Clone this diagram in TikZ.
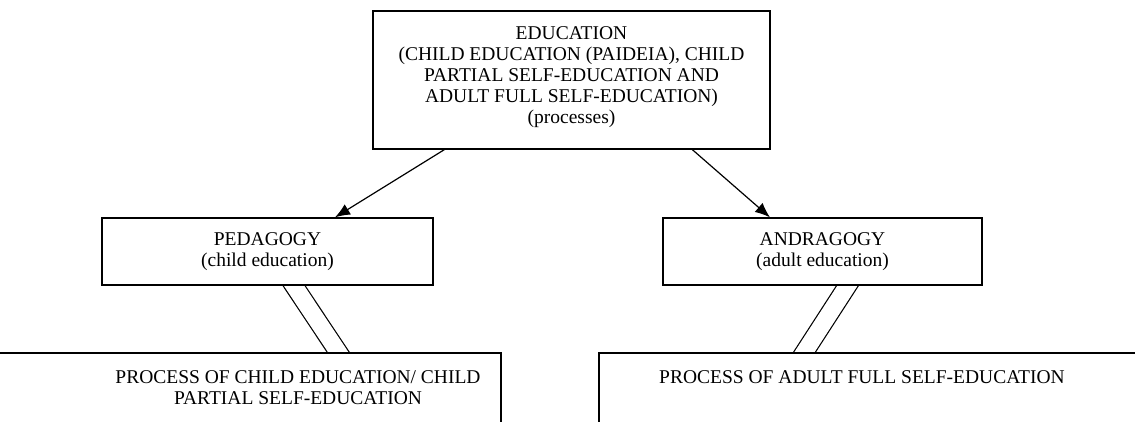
\documentclass[tikz,border=0pt]{standalone}
\usepackage{fontspec}
\setmainfont{Liberation Serif}
\usetikzlibrary{arrows.meta,calc,backgrounds}
\begin{document}
\begin{tikzpicture}[x=1pt,y=-1pt,
  box/.style={draw, line width=1.3pt, fill=white, inner sep=0pt},
  lbl/.style={font=\fontsize{19.5}{21}\selectfont, align=center, inner sep=0pt},
  arr/.style={-{Latex[length=15pt,width=12pt]}, line width=1.2pt},
  dbl/.style={double, double distance=17pt, line width=1.2pt, shorten <=-6pt, shorten >=-6pt}]
\clip (0,0) rectangle (1135,422);
% nodes
\node[box, minimum width=397pt, minimum height=138pt] (edu) at (571.5,80) {};
\node[lbl] (edut) at (571.5,77) {EDUCATION\\(CHILD EDUCATION (PAIDEIA), CHILD\\PARTIAL SELF-EDUCATION AND\\ADULT FULL SELF-EDUCATION)\\(processes)};
\node[box, lbl, draw, line width=1.3pt, minimum width=331pt, minimum height=67pt] (ped) at (267.5,251.5) {PEDAGOGY\\(child education)};
\node[box, lbl, draw, line width=1.3pt, minimum width=319pt, minimum height=67pt] (and) at (822.5,251.5) {ANDRAGOGY\\(adult education)};
\node[box, minimum width=560pt, minimum height=120pt] (pch) at (221,413) {};
\node[lbl] (pcht) at (298,387.5) {PROCESS OF CHILD EDUCATION/ CHILD\\PARTIAL SELF-EDUCATION};
\node[box, minimum width=600pt, minimum height=120pt] (pad) at (899,413) {};
\node[lbl] (padt) at (862,377) {PROCESS OF ADULT FULL SELF-EDUCATION};
% connectors
\draw[arr] ($(edu.south west)+(72,0)$) -- ($(ped.north)+(67.5,0)$);
\draw[arr] ($(edu.south west)+(320,0)$) -- ($(and.north)+(-52.5,0)$);
\begin{scope}[on background layer]
\draw[dbl] ($(ped.south)+(26.5,0)$) -- ($(pch.north west)+(398,0)$);
\draw[dbl] ($(and.south)+(25,0)$) -- ($(pad.north west)+(206,0)$);
\end{scope}
\end{tikzpicture}
\end{document}
